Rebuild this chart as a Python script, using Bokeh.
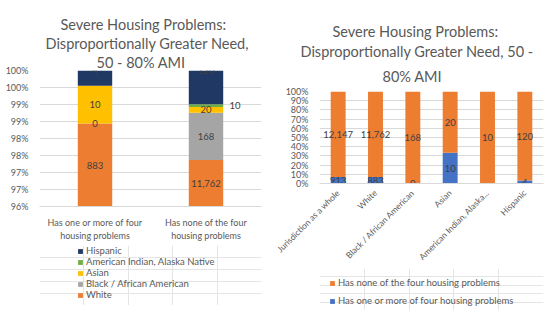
import math
from bokeh.plotting import figure
from bokeh.layouts import row, column
from bokeh.models import (FactorRange, Range1d, FixedTicker, Legend, LegendItem,
                          Title, ColumnDataSource, PrintfTickFormatter)
from bokeh.core.properties import value
from bokeh.embed import file_html
from bokeh.resources import INLINE

# ---------------- data ----------------
left_cats = ["Has one or more of four\nhousing problems", "Has none of the four\nhousing problems"]
races = ["White", "Black / African American", "Asian", "American Indian, Alaska Native", "Hispanic"]
white = [883, 11762]
black = [0, 168]
asian = [10, 20]
amind = [0, 10]
hispanic = [4, 120]
race_colors = ["#ED7D31", "#A5A5A5", "#FFC000", "#70AD47", "#203864"]
left_ticks = [96, 96.5, 97, 97.5, 98, 98.5, 99, 99.5, 100]
left_tick_labels = ["96%", "97%", "97%", "98%", "98%", "99%", "99%", "100%", "100%"]

right_cats = ["Jurisdiction as a whole", "White", "Black / African American", "Asian",
              "American Indian, Alaska...", "Hispanic"]
has_one = [913, 883, 0, 10, 0, 4]
has_none = [12147, 11762, 168, 20, 10, 120]
right_series = ["Has none of the four housing problems", "Has one or more of four housing problems"]
right_colors = ["#ED7D31", "#4472C4"]
right_ticks = [0, 10, 20, 30, 40, 50, 60, 70, 80, 90, 100]

FONT = "Lato"
GRAY = "#595959"
LBL = "#404040"
GRID = "#D9D9D9"


def style(p, xfont="9px"):
    p.xgrid.grid_line_color = None
    p.ygrid.grid_line_color = GRID
    p.outline_line_color = None
    p.yaxis.axis_line_color = None
    p.yaxis.major_tick_line_color = None
    p.yaxis.minor_tick_line_color = None
    p.xaxis.axis_line_color = GRID
    p.xaxis.major_tick_line_color = None
    p.xaxis.minor_tick_line_color = None
    for ax in (p.xaxis, p.yaxis):
        ax.major_label_text_font = FONT
        ax.major_label_text_color = GRAY
    p.yaxis.major_label_text_font_size = "9px"
    p.xaxis.major_label_text_font_size = xfont
    p.yaxis.major_label_standoff = 5
    p.xaxis.major_label_standoff = 4


def add_titles(p, lines, offsets, standoffs, spacer_size):
    # lines top->bottom; added nearest-first
    for t, o, s in reversed(list(zip(lines, offsets, standoffs))):
        p.add_layout(Title(text=t, align="left", offset=o, text_font=FONT,
                           text_font_size="14.5px", text_font_style="normal",
                           text_color=GRAY, standoff=s), "above")
    p.add_layout(Title(text=" ", align="left", text_font=FONT, text_font_size=spacer_size,
                       text_font_style="normal", standoff=0), "above")


def legend_fig(width, height, labels, colors, loc, spacing, left):
    lf = figure(width=width, height=height, output_backend="svg", toolbar_location=None,
                x_range=Range1d(0, 1), y_range=Range1d(0, 1), x_axis_location=None,
                y_axis_location=None, min_border=0, min_border_left=left)
    lf.outline_line_color = None
    rends = [lf.vbar(x=[0.5], top=[0], bottom=[0], width=0.1, color=c, line_color=None)
             for c in colors]
    leg = Legend(items=[LegendItem(label=value(t), renderers=[r]) for t, r in zip(labels, rends)],
                 location=loc, orientation="vertical", label_text_font=FONT,
                 label_text_font_size="9.5px", label_text_color=GRAY, glyph_width=6,
                 glyph_height=6, spacing=spacing, label_height=11, padding=0, margin=0,
                 border_line_color=None, background_fill_alpha=0, label_standoff=3)
    lf.add_layout(leg)
    return lf


# ---------------- left chart ----------------
cols = [white, black, asian, amind, hispanic]
keys = ["s0", "s1", "s2", "s3", "s4"]
totals = [sum(c[i] for c in cols) for i in range(len(left_cats))]
lsrc = {"cat": left_cats}
for k, c in zip(keys, cols):
    lsrc[k] = [v / t * 100 for v, t in zip(c, totals)]

LMIN, LMAX = 96, 100
p1 = figure(width=265, height=245, x_range=FactorRange(*left_cats), y_range=Range1d(LMIN, LMAX),
            output_backend="svg", toolbar_location=None, min_border_left=39,
            min_border_right=4, min_border_top=0, min_border_bottom=39)
rs = p1.vbar_stack(keys, x="cat", width=0.31, color=race_colors, source=ColumnDataSource(lsrc),
                   line_color=None)
style(p1)
p1.yaxis.ticker = FixedTicker(ticks=left_ticks)
p1.yaxis.major_label_overrides = {t: l for t, l in zip(left_ticks, left_tick_labels)}

lx, ly, lt, lxo = [], [], [], []
for i, cat in enumerate(left_cats):
    cum = 0.0
    for name, c in zip(races, cols):
        pct = c[i] / totals[i] * 100
        lo, hi = max(cum, LMIN), min(cum + pct, LMAX)
        mid = (lo + hi) / 2
        cum += pct
        if name == "American Indian, Alaska Native":
            if c[i] == 0:
                continue
            lx.append(cat); ly.append(mid); lt.append(f"{c[i]:,}"); lxo.append(29)
            continue
        if name == "Hispanic":
            mid = LMAX
        lx.append(cat); ly.append(mid); lt.append(f"{c[i]:,}"); lxo.append(0)
p1.text(x=lx, y=ly, text=lt, x_offset=lxo, text_align="center", text_baseline="middle",
        text_font=value(FONT), text_font_size="9.5px", text_color=LBL)
add_titles(p1, ["Severe Housing Problems:", "Disproportionally Greater Need,", "50 - 80% AMI"],
           [21, 6, 57], [0, 0, 0], "9px")
lf1 = legend_fig(265, 60, [races[k] for k in [4, 3, 2, 1, 0]],
                 [race_colors[k] for k in [4, 3, 2, 1, 0]], (38, 5), 0, 39)

# ---------------- right chart ----------------
rtot = [a + b for a, b in zip(has_one, has_none)]
rsrc = {"cat": right_cats,
        "one": [a / t * 100 for a, t in zip(has_one, rtot)],
        "none": [b / t * 100 for b, t in zip(has_none, rtot)]}
p2 = figure(width=278, height=268, x_range=FactorRange(*right_cats), y_range=Range1d(0, 100),
            output_backend="svg", toolbar_location=None, min_border_left=51,
            min_border_right=3, min_border_top=0, min_border_bottom=70)
rr = p2.vbar_stack(["one", "none"], x="cat", width=0.4, color=[right_colors[1], right_colors[0]],
                   source=ColumnDataSource(rsrc), line_color=None)
style(p2, xfont="8.5px")
p2.xaxis.major_label_standoff = 2
p2.yaxis.ticker = FixedTicker(ticks=right_ticks)
p2.yaxis.formatter = PrintfTickFormatter(format="%d%%")
p2.xaxis.major_label_orientation = math.pi / 4

rx, ry, rt = [], [], []
for i, cat in enumerate(right_cats):
    a = rsrc["one"][i]
    if not (has_one[i] == 0 and cat.startswith("American")):
        rx.append(cat); ry.append(a / 2); rt.append(f"{has_one[i]:,}")
    rx.append(cat); ry.append(a + rsrc["none"][i] / 2); rt.append(f"{has_none[i]:,}")
p2.text(x=rx, y=ry, text=rt, text_align="center", text_baseline="middle",
        text_font=value(FONT), text_font_size="9.5px", text_color=LBL)
add_titles(p2, ["Severe Housing Problems:", "Disproportionally Greater Need, 50 -", "80% AMI"],
           [13, -19, 63], [2, 0, 13], "14.5px")
lf2 = legend_fig(278, 42, right_series, right_colors, (10, 4), 7, 51)

layout = row(column(p1, lf1, spacing=0), column(p2, lf2, spacing=0), spacing=3)
open("out.html", "w").write(file_html(layout, INLINE))
